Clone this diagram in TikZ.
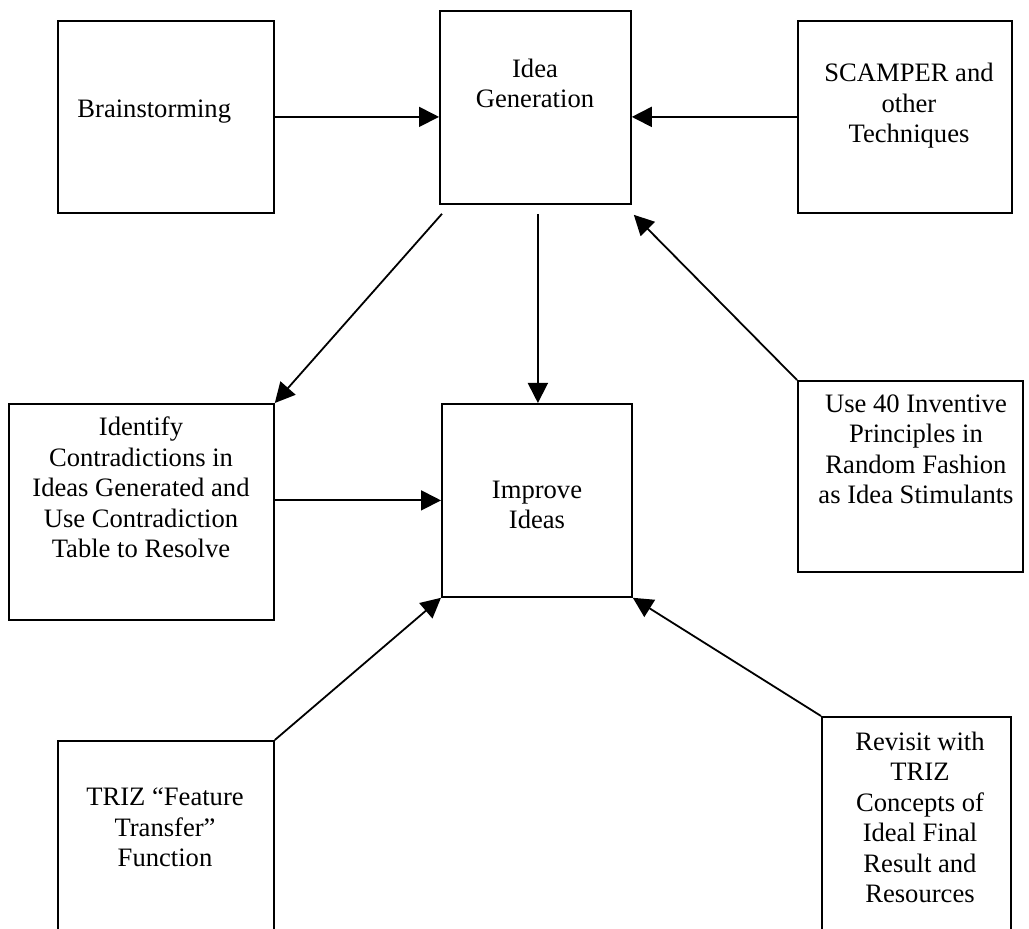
\documentclass[tikz,border=0pt]{standalone}
\usepackage{fontspec}
\setmainfont{Liberation Serif}
\usetikzlibrary{arrows.meta}
\begin{document}
\begin{tikzpicture}[x=0.5pt,y=-0.5pt,
  box/.style={draw, line width=0.9pt, rectangle, inner sep=0pt, anchor=north west},
  lbl/.style={align=center, font=\fontsize{13.3}{15.25}\selectfont, inner sep=0pt, anchor=base},
  arr/.style={line width=0.9pt, -{Triangle[length=10pt,width=10pt]}}]
\useasboundingbox (0,0) rectangle (1029,929);
\clip (0,0) rectangle (1029,929);
% boxes
\node[box, minimum width=108pt, minimum height=96pt] (brain) at (57,20) {};
\node[box, minimum width=95.5pt, minimum height=96.5pt] (idea) at (439,10) {};
\node[box, minimum width=107pt, minimum height=96pt] (scamper) at (797,20) {};
\node[box, minimum width=132.5pt, minimum height=108pt] (identify) at (8,403) {};
\node[box, minimum width=95pt, minimum height=96.5pt] (improve) at (441,403) {};
\node[box, minimum width=112.5pt, minimum height=95.5pt] (use40) at (797,380) {};
\node[box, minimum width=108pt, minimum height=102.5pt] (triz) at (57,740) {};
\node[box, minimum width=94.5pt, minimum height=114.5pt] (revisit) at (821,716) {};
% texts (anchor base = baseline of the last line)
\node[lbl, anchor=base west] (brain-t) at (77,118) {Brainstorming};
\node[lbl] (idea-t) at (535,108) {Idea\\Generation};
\node[lbl] (scamper-t) at (909,143) {SCAMPER and\\other\\Techniques};
\node[lbl] (identify-t) at (141,558) {Identify\\Contradictions in\\Ideas Generated and\\Use Contradiction\\Table to Resolve};
\node[lbl] (improve-t) at (537,529) {Improve\\Ideas};
\node[lbl] (use40-t) at (916,504) {Use 40 Inventive\\Principles in\\Random Fashion\\as Idea Stimulants};
\node[lbl] (triz-t) at (165,867) {TRIZ “Feature\\Transfer”\\Function};
\node[lbl] (revisit-t) at (920,903) {Revisit with\\TRIZ\\Concepts of\\Ideal Final\\Result and\\Resources};
% connectors
\draw[arr] (brain.east) -- (brain.east -| idea.west);
\draw[arr] (scamper.west) -- (scamper.west -| idea.east);
\draw[arr] ([shift={(3,9)}]idea.south west) -- (identify.north east);
\coordinate (vtop) at ([shift={(2.5,9)}]idea.south);
\draw[arr] (vtop) -- (vtop |- improve.north);
\draw[arr] (use40.north west) -- ([shift={(2,10)}]idea.south east);
\draw[arr] (improve.west -| identify.east) -- (improve.west);
\draw[arr] (triz.north east) -- (improve.south west);
\draw[arr] (revisit.north west) -- (improve.south east);
\end{tikzpicture}
\end{document}
